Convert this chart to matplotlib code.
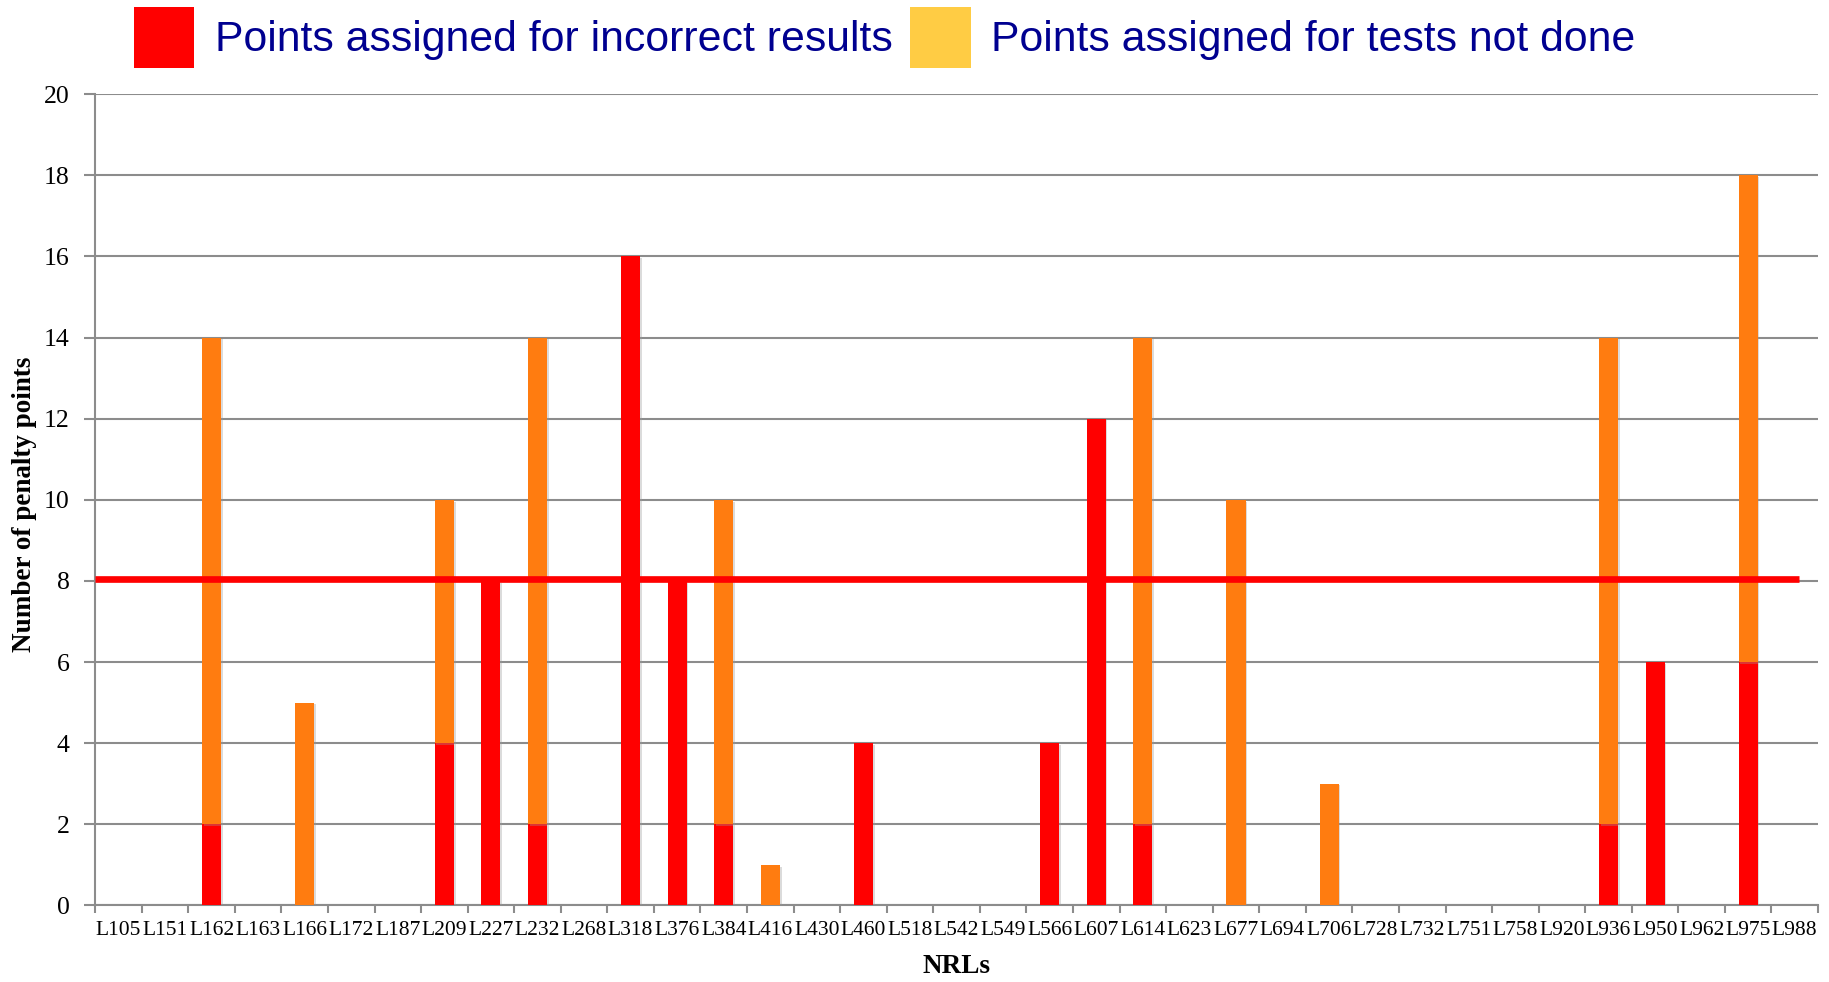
import matplotlib
matplotlib.use("Agg")
import matplotlib.pyplot as plt
import numpy as np
from matplotlib.patches import Patch
from matplotlib import patheffects as pe

categories = ["L105", "L151", "L162", "L163", "L166", "L172", "L187", "L209", "L227", "L232",
              "L268", "L318", "L376", "L384", "L416", "L430", "L460", "L518", "L542", "L549",
              "L566", "L607", "L614", "L623", "L677", "L694", "L706", "L728", "L732", "L751",
              "L758", "L920", "L936", "L950", "L962", "L975", "L988"]
incorrect = [0, 0, 2, 0, 0, 0, 0, 4, 8, 2,
             0, 16, 8, 2, 0, 0, 4, 0, 0, 0,
             4, 12, 2, 0, 0, 0, 0, 0, 0, 0,
             0, 0, 2, 6, 0, 6, 0]
not_done = [0, 0, 12, 0, 5, 0, 0, 6, 0, 12,
            0, 0, 0, 8, 1, 0, 0, 0, 0, 0,
            0, 0, 12, 0, 10, 0, 3, 0, 0, 0,
            0, 0, 12, 0, 0, 12, 0]
threshold = 8.05
yticks = list(range(0, 21, 2))

legend_labels = ["Points assigned for incorrect results", "Points assigned for tests not done"]

RED = "#FF0000"
ORANGE = "#FF7C10"
LEG_YELLOW = "#FFCC44"
NAVY = "#000090"
GRAY = "#8C8C8C"

serif = ["Liberation Serif", "DejaVu Serif"]
sans = ["Liberation Sans", "DejaVu Sans"]

fig = plt.figure(figsize=(18.29, 9.82), dpi=100)
ax = fig.add_axes([0.052, 0.078, 0.942, 0.826])

x = np.arange(len(categories))
w = 0.41
shadow = [pe.SimplePatchShadow(offset=(1.2, -1.2), shadow_rgbFace="#999999", alpha=0.35), pe.Normal()]
inc = np.array(incorrect)
nd = np.array(not_done)
b1 = ax.bar(x, inc, width=w, color=RED, zorder=3)
b2 = ax.bar(x, nd, bottom=inc, width=w, color=ORANGE, zorder=3)
for b in list(b1) + list(b2):
    if b.get_height() > 0:
        b.set_path_effects(shadow)
    else:
        b.set_visible(False)

ax.hlines(threshold, -0.5, 36.1, color=RED, lw=4.8, zorder=4)

ax.set_xlim(-0.5, len(categories) - 0.5)
ax.set_ylim(0, 20)
ax.set_yticks(yticks)
ax.set_yticklabels([str(v) for v in yticks], fontfamily=serif, fontsize=18.5)
ax.yaxis.grid(True, color=GRAY, lw=1.5, zorder=0)
ax.set_axisbelow(True)
ax.tick_params(axis="y", length=8, width=1.5, color=GRAY, pad=10.5)

ax.set_xticks(x)
ax.set_xticklabels(categories, fontfamily=serif, fontsize=15.5)
ax.set_xticks(np.arange(-0.5, len(categories), 1), minor=True)
ax.tick_params(axis="x", which="major", length=0, pad=11.5)
ax.tick_params(axis="x", which="minor", length=6, width=1.5, color=GRAY)

for s in ["top", "right"]:
    ax.spines[s].set_visible(False)
for s in ["left", "bottom"]:
    ax.spines[s].set_color(GRAY)
    ax.spines[s].set_linewidth(1.5)

fig.text(25 / 1829, 1 - 504 / 982, "Number of penalty points", fontfamily=serif, fontsize=19.5,
         fontweight="bold", rotation=90, ha="center", va="center")
ax.set_xlabel("NRLs", fontfamily=serif, fontsize=19.5, fontweight="bold", labelpad=10)

handles = [Patch(facecolor=RED, edgecolor="none"), Patch(facecolor=LEG_YELLOW, edgecolor="none")]
leg = fig.legend(handles, legend_labels, loc="center", bbox_to_anchor=(0.4836, 0.962), ncol=2,
                 frameon=False, prop={"family": sans, "size": 30.8},
                 handlelength=1.42, handleheight=1.8, handletextpad=0.48, columnspacing=0.4)
for t in leg.get_texts():
    t.set_color(NAVY)

fig.savefig("out.png", dpi=100)
